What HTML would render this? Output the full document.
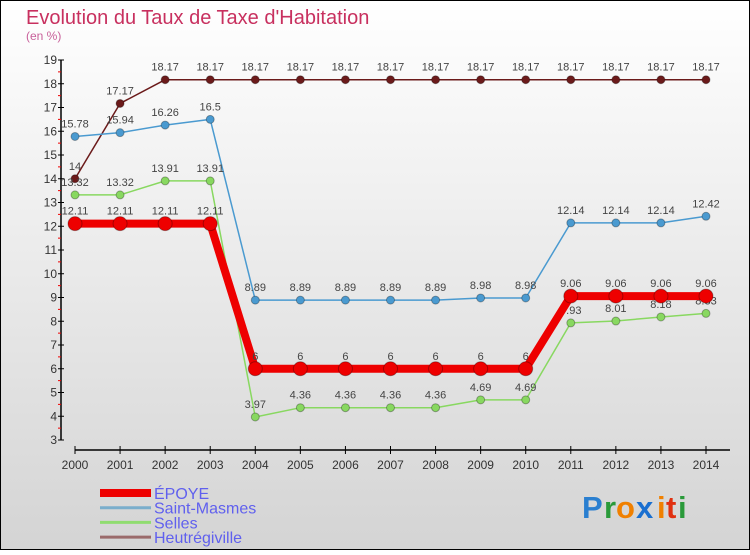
<!DOCTYPE html>
<html><head><meta charset="utf-8"><style>
body{margin:0;width:750px;height:550px;overflow:hidden;font-family:"Liberation Sans",sans-serif}
svg text{font-family:"Liberation Sans",sans-serif}
</style></head><body>
<svg id="c" width="750" height="550" xmlns="http://www.w3.org/2000/svg">
<defs><linearGradient id="bg" x1="0" y1="0" x2="0" y2="1"><stop offset="0" stop-color="#ffffff"/><stop offset="1" stop-color="#d4d4d4"/></linearGradient></defs>
<rect x="0.5" y="0.5" width="749" height="549" fill="url(#bg)" stroke="#000"/>
<text x="26" y="24" font-size="20" fill="#c8305f">Evolution du Taux de Taxe d'Habitation</text>
<text x="26" y="40" font-size="12" fill="#c8609a">(en %)</text>
<g id="axes"></g><g id="series"></g><g id="legend"></g>
<g font-size="31" font-weight="bold">
<text x="582" y="518" fill="#2a7fd0">P</text><text x="604" y="518" fill="#2a9a3a">r</text><text x="616" y="518" fill="#f08000">o</text><text x="636" y="518" fill="#1a6fd0">x</text><text x="657" y="518" fill="#f08000">i</text><text x="666" y="518" fill="#e03010">t</text><text x="678" y="518" fill="#2a9a3a">i</text>
</g>
</svg>
<script>
const years=[2000,2001,2002,2003,2004,2005,2006,2007,2008,2009,2010,2011,2012,2013,2014];
const yTicks=[3,4,5,6,7,8,9,10,11,12,13,14,15,16,17,18,19];
const epoye=[12.11,12.11,12.11,12.11,6,6,6,6,6,6,6,9.06,9.06,9.06,9.06];
const saintMasmes=[15.78,15.94,16.26,16.5,8.89,8.89,8.89,8.89,8.89,8.98,8.98,12.14,12.14,12.14,12.42];
const selles=[13.32,13.32,13.91,13.91,3.97,4.36,4.36,4.36,4.36,4.69,4.69,7.93,8.01,8.18,8.33];
const heut=[14,17.17,18.17,18.17,18.17,18.17,18.17,18.17,18.17,18.17,18.17,18.17,18.17,18.17,18.17];
const NS="http://www.w3.org/2000/svg";
const X=i=>75+i*(706-75)/(years.length-1);
const Y=v=>440-(v-3)*(380/16);
function mk(tag,attrs,parent){const e=document.createElementNS(NS,tag);for(const k in attrs)e.setAttribute(k,attrs[k]);parent.appendChild(e);return e;}
const ax=document.getElementById('axes');
let yl=mk('line',{x1:61,y1:Y(19),x2:61,y2:440,stroke:'#000','stroke-width':1.5},ax);


yTicks.forEach(v=>{
 mk('line',{x1:58,y1:Y(v),x2:64,y2:Y(v),stroke:'#000'},ax);
 if(v<19)mk('line',{x1:58,y1:Y(v+0.5),x2:61,y2:Y(v+0.5),stroke:'#e00'},ax);
 const t=mk('text',{x:57,y:Y(v)+4,'font-size':12,fill:'#333','text-anchor':'end'},ax);t.textContent=v;
 
 
});
let xl=mk('line',{x1:75,y1:450,x2:730,y2:450,stroke:'#000','stroke-width':1.5},ax);


years.forEach((yr,i)=>{
 mk('line',{x1:X(i),y1:446,x2:X(i),y2:454,stroke:'#000'},ax);
 const t=mk('text',{x:X(i),y:469,'font-size':12,fill:'#333','text-anchor':'middle'},ax);t.textContent=yr;
 
 
});
const sg=document.getElementById('series');
function series(vals,color,w,r,name){
 const g=mk('g',{},sg);
 
 
 mk('polyline',{points:vals.map((v,i)=>X(i)+','+Y(v)).join(' '),fill:'none',stroke:color,'stroke-width':w,'stroke-linejoin':'round'},g);
 vals.forEach((v,i)=>{
  const c=mk('circle',{cx:X(i),cy:Y(v),r:r,fill:color,stroke:'rgba(0,0,0,0.3)','stroke-width':1},g);
  
  
  const t=mk('text',{x:X(i),y:Y(v)-9,'font-size':11,fill:'#444','text-anchor':'middle'},g);t.textContent=v;
  
  
 });
}
series(heut,'#6b1a1a',1.5,4,'heutregiville-series');
series(saintMasmes,'#4a9ad0',1.5,4,'saint-masmes-series');
series(selles,'#88d860',1.5,4,'selles-series');
series(epoye,'#ee0000',8,7,'epoye-series');
const lg=document.getElementById('legend');
const leg=[['ÉPOYE','#ee0000',8],['Saint-Masmes','#7aaecc',3],['Selles','#90dc70',3],['Heutrégiville','#9a6a6a',3]];
leg.forEach((l,i)=>{
 const y=493+i*14.7;
 const g=mk('g',{},lg);
 
 
 mk('line',{x1:100,y1:y,x2:151,y2:y,stroke:l[1],'stroke-width':l[2]},g);
 const t=mk('text',{x:154,y:y+6,'font-size':16,fill:'#6060ee'},g);t.textContent=l[0];
});
</script>
</body></html>
